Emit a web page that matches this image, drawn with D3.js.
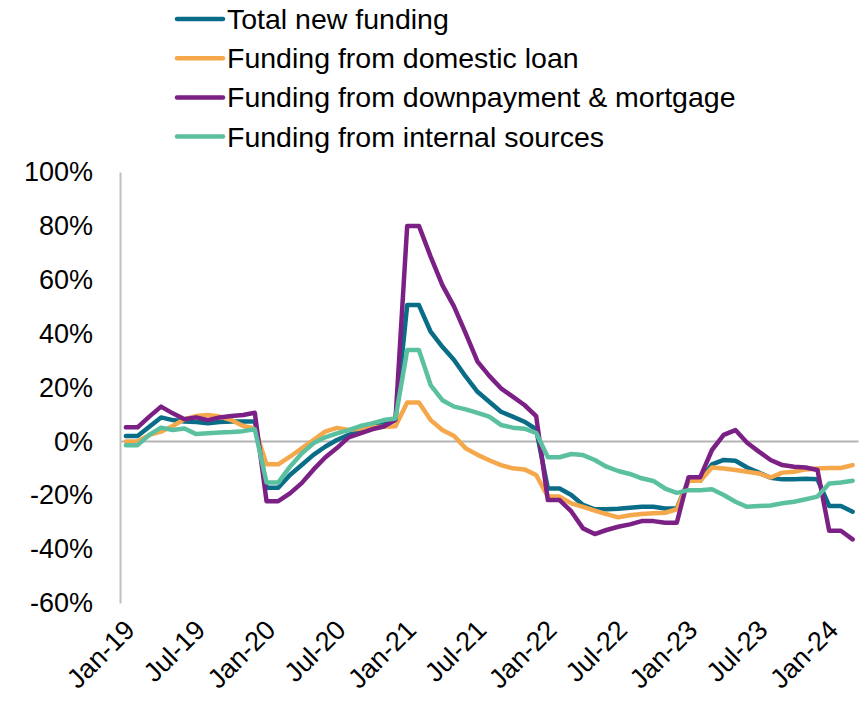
<!DOCTYPE html>
<html>
<head>
<meta charset="utf-8">
<script src="https://cdn.jsdelivr.net/npm/d3@7"></script>
<style>
  html, body { margin: 0; padding: 0; background: #ffffff; }
  svg { display: block; font-family: "Liberation Sans", Arial, sans-serif; }
</style>
</head>
<body>
<svg id="chart" width="865" height="701"></svg>
<script>
// Monthly growth rates (%), January 2019 to March 2024
const months = d3.timeMonth.range(new Date(2019, 0, 1), new Date(2024, 3, 1));
const tickLabels = ["Jan-19", "Jul-19", "Jan-20", "Jul-20", "Jan-21", "Jul-21",
                    "Jan-22", "Jul-22", "Jan-23", "Jul-23", "Jan-24"];
const yTicks = [-60, -40, -20, 0, 20, 40, 60, 80, 100];

const totalNewFunding = [
  2, 2, 5.4, 8.9, 7.9, 7.4, 7.2, 6.7, 7.2, 7.4, 7.4, 7.4,
  -17.2, -17.2, -12.5, -8.8, -5, -2, 0.5, 2.4, 4, 5.2, 6.3, 7.9,
  50.6, 50.6, 40.7, 35.1, 30.2, 24, 18.4, 14.7, 11, 9.2, 7.3, 4.5,
  -17.5, -17.5, -19.9, -23.6, -25.2, -25.2, -25, -24.6, -24.3, -24.3, -24.9, -24.9,
  -14.4, -14.6, -8.5, -6.9, -7.2, -9.7, -11.6, -13.5, -14.1, -14.1, -13.9, -14.1,
  -24, -24, -26.1
];
const domesticLoan = [
  0, 0, 2.4, 3.6, 5.7, 8.2, 9.4, 9.8, 9.2, 7.9, 5.7, 4.8,
  -8.5, -8.5, -5.7, -2.6, 0.5, 3.6, 5, 4.2, 4.8, 5.2, 5.4, 5.6,
  14.4, 14.4, 7.9, 4.2, 2, -2.6, -5, -7, -8.8, -10, -10.4, -12.5,
  -20.5, -20.5, -23, -24.3, -25.7, -27, -28.2, -27.4, -27, -26.7, -26.5, -25.2,
  -14.6, -14.6, -9.7, -10.1, -10.6, -11.3, -11.9, -13.4, -11.6, -11.3, -10.4, -10.1,
  -9.9, -9.9, -8.8
];
const downpaymentMortgage = [
  5.2, 5.2, 9.2, 12.9, 10.4, 8.2, 8.9, 7.9, 8.9, 9.4, 9.8, 10.6,
  -22.2, -22.2, -19.3, -15.5, -10.5, -6, -2.5, 1.5, 3, 4.5, 5.5, 8,
  80, 80, 68.6, 58, 50, 40, 29.6, 24.3, 19.7, 16.6, 13.5, 9.4,
  -21.8, -21.8, -26, -32.3, -34.4, -32.9, -31.7, -30.8, -29.6, -29.6, -30.2, -30.2,
  -13.3, -13.3, -3.2, 2.4, 4.2, -0.5, -3.8, -6.9, -8.8, -9.4, -9.7, -10.6,
  -33.2, -33.2, -36.4
];
const internalSources = [
  -1.4, -1.4, 2.4, 5.1, 4.2, 4.8, 2.7, 3.0, 3.3, 3.5, 3.8, 4.5,
  -15.3, -15.3, -9.4, -4.5, -0.7, 1.5, 3, 4.2, 5.7, 6.7, 7.9, 8.5,
  33.9, 33.9, 20.9, 15.3, 12.9, 11.9, 10.6, 9.2, 6.1, 5.1, 4.7, 3.2,
  -5.9, -5.9, -4.7, -5.1, -6.9, -9.4, -11, -12.1, -13.7, -14.7, -17.5, -19.1,
  -18.1, -18.1, -17.8, -19.9, -22.4, -24.3, -24, -23.8, -23, -22.4, -21.5, -20.5,
  -15.6, -15.3, -14.6
];

const seriesNames = ["Total new funding", "Funding from domestic loan",
                     "Funding from downpayment & mortgage", "Funding from internal sources"];
const seriesColors = ["#0a6d87", "#f5a84b", "#7b2185", "#5bc0a0"];
const seriesValues = [totalNewFunding, domesticLoan, downpaymentMortgage, internalSources];

const fmtMonth = d3.timeFormat("%b-%y");
const monthKeys = months.map(fmtMonth);

const svg = d3.select("#chart");
const plot = { left: 120, right: 858.5, top: 172, bottom: 603 };

const x = d3.scaleBand().domain(monthKeys).range([plot.left, plot.right]);
const xc = k => x(k) + x.bandwidth() / 2;
const y = d3.scaleLinear().domain([-60, 100]).range([plot.bottom, plot.top]);

// zero reference line
svg.append("line")
  .attr("x1", plot.left).attr("x2", plot.right)
  .attr("y1", y(0)).attr("y2", y(0))
  .attr("stroke", "#b3b3b3").attr("stroke-width", 2);

// y axis
const yAxis = svg.append("g")
  .attr("transform", `translate(${plot.left},0)`)
  .call(d3.axisLeft(y).tickValues(yTicks).tickSize(0).tickPadding(27)
        .tickFormat(d => d + "%"));
yAxis.select(".domain").attr("stroke", "#bfbfbf").attr("stroke-width", 2);
yAxis.selectAll("text").attr("font-size", 27).attr("fill", "#000")
  .attr("font-family", "'Liberation Sans', Arial, sans-serif");

// x axis with rotated labels
const xAxis = svg.append("g")
  .attr("transform", `translate(0,${plot.bottom})`)
  .call(d3.axisBottom(x).tickValues(tickLabels).tickSize(0));
xAxis.select(".domain").remove();
xAxis.selectAll(".tick text")
  .attr("font-size", 27).attr("fill", "#000")
  .attr("font-family", "'Liberation Sans', Arial, sans-serif")
  .attr("text-anchor", "end")
  .attr("x", 0).attr("y", 0).attr("dy", "0.71em")
  .attr("transform", "translate(-3,15) rotate(-45)");

// series lines
const line = d3.line()
  .x((d, i) => xc(monthKeys[i]))
  .y(d => y(d));

seriesValues.forEach((vals, s) => {
  svg.append("path")
    .datum(vals)
    .attr("fill", "none")
    .attr("stroke", seriesColors[s])
    .attr("stroke-width", 4.5)
    .attr("stroke-linejoin", "round")
    .attr("stroke-linecap", "round")
    .attr("d", line);
});

// legend
const legend = svg.append("g");
const rows = legend.selectAll("g").data(seriesNames).join("g")
  .attr("transform", (d, i) => `translate(177,${19 + i * 39.2})`);
rows.append("line")
  .attr("x1", 0).attr("x2", 46).attr("y1", 0).attr("y2", 0)
  .attr("stroke", (d, i) => seriesColors[i])
  .attr("stroke-width", 4.5).attr("stroke-linecap", "round");
rows.append("text")
  .attr("x", 50).attr("y", 0).attr("dy", "0.35em")
  .attr("font-size", 28.5).attr("fill", "#000")
  .text(d => d);
</script>
</body>
</html>
